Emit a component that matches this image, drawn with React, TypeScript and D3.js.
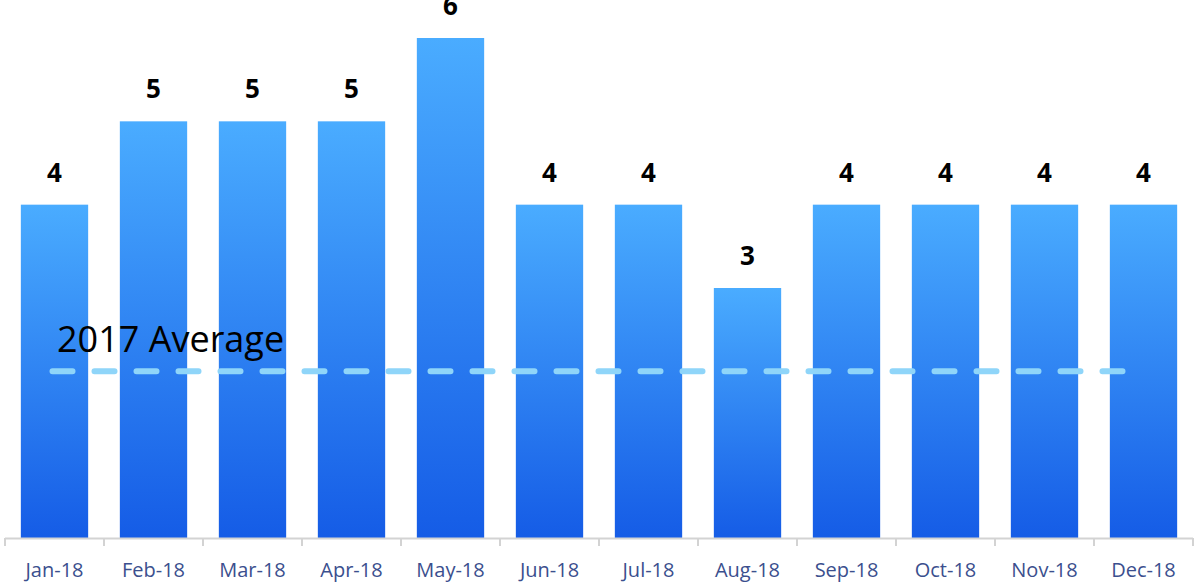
import React from "react";
import * as d3 from "d3";

const months = ["Jan-18", "Feb-18", "Mar-18", "Apr-18", "May-18", "Jun-18", "Jul-18", "Aug-18", "Sep-18", "Oct-18", "Nov-18", "Dec-18"];
const values = [4, 5, 5, 5, 6, 4, 4, 3, 4, 4, 4, 4];
const average2017 = 2;
const averageLabel = "2017 Average";

const W = 1195;
const H = 582;

export default function App() {
  const x = d3.scaleBand<string>().domain(months).range([5, 1193]).paddingInner(0.32).paddingOuter(0.16);
  const y = d3.scaleLinear().domain([0, 6]).range([538, 38]);
  const band = x.step();
  const font = "'Open Sans', sans-serif";
  const x0 = (x(months[0]) ?? 0) + x.bandwidth() / 2 - 2;
  const x1 = (x(months[months.length - 1]) ?? 0) + x.bandwidth() / 4;
  const ticks = months.map((_, i) => 5 + i * band).concat([1193]);
  return (
    <svg width={W} height={H} style={{ position: "absolute", left: 0, top: 0 }} fontFamily={font}>
      <defs>
        <linearGradient id="barGrad" x1="0" y1="0" x2="0" y2="1">
          <stop offset="0%" stopColor="#4aacff" />
          <stop offset="100%" stopColor="#155ce6" />
        </linearGradient>
      </defs>
      <rect width={W} height={H} fill="#fff" />
      {months.map((m, i) => (
        <g key={m}>
          <rect x={x(m)} y={y(values[i])} width={x.bandwidth()} height={y(0) - y(values[i])} fill="url(#barGrad)" />
          <text x={(x(m) ?? 0) + x.bandwidth() / 2} y={y(values[i]) - 23} textAnchor="middle" fontSize={26} fontWeight={700} fill="#000">
            {values[i]}
          </text>
          <text x={(x(m) ?? 0) + x.bandwidth() / 2} y={577} textAnchor="middle" fontSize={20} fill="#3b4f8e">
            {m}
          </text>
        </g>
      ))}
      <line x1={5} x2={1193} y1={y(0) + 0.5} y2={y(0) + 0.5} stroke="#d3d3d3" strokeWidth={2} />
      {ticks.map((t, i) => (
        <line key={i} x1={t} x2={t} y1={y(0)} y2={y(0) + 8} stroke="#d3d3d3" strokeWidth={2} />
      ))}
      <line x1={x0} x2={x1} y1={y(average2017)} y2={y(average2017)} stroke="#8fd5f9" strokeWidth={6} strokeLinecap="round" strokeDasharray="20 22" />
      <text x={57} y={352} fontSize={36} fill="#000">{averageLabel}</text>
    </svg>
  );
}
